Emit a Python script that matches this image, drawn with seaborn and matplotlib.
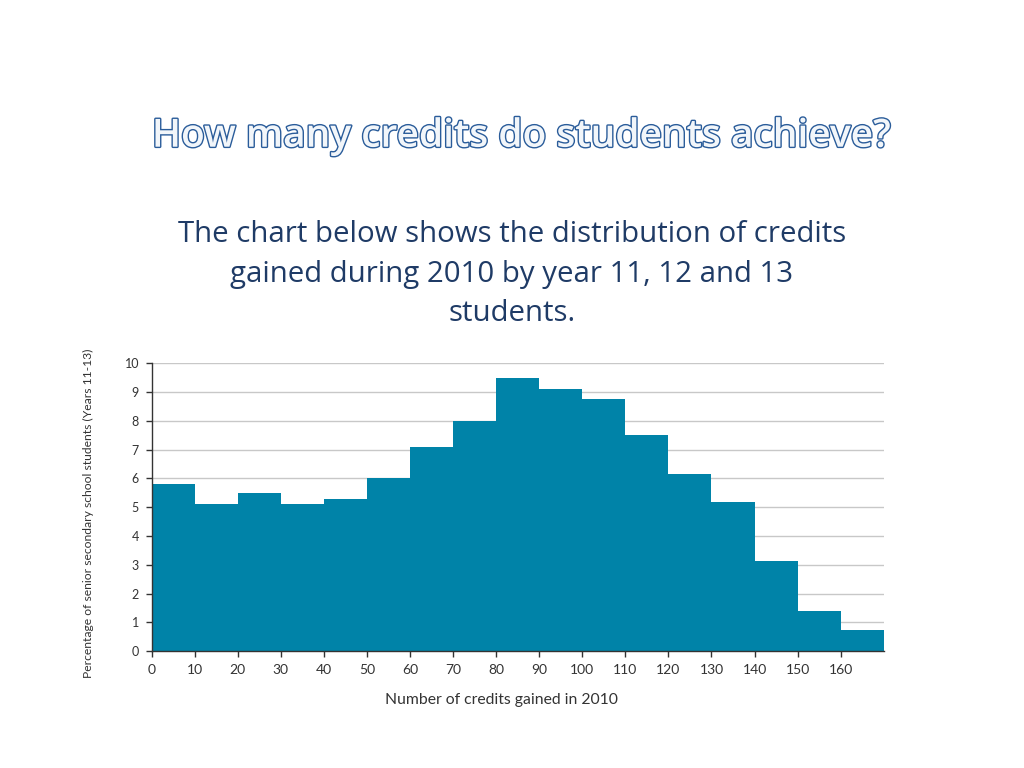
import numpy as np
import pandas as pd
import matplotlib
matplotlib.use("Agg")
import matplotlib.pyplot as plt
import matplotlib.patheffects as pe
import seaborn as sns

# Data
bin_starts = [0, 10, 20, 30, 40, 50, 60, 70, 80, 90, 100, 110, 120, 130, 140, 150, 160]
percentages = [5.80, 5.10, 5.48, 5.10, 5.30, 6.03, 7.10, 7.98, 9.48, 9.12, 8.77, 7.51, 6.15, 5.17, 3.13, 1.39, 0.74]
x_ticks = [0, 10, 20, 30, 40, 50, 60, 70, 80, 90, 100, 110, 120, 130, 140, 150, 160]
y_ticks = [0, 1, 2, 3, 4, 5, 6, 7, 8, 9, 10]

title = "How many credits do students achieve?"
subtitle = "The chart below shows the distribution of credits\ngained during 2010 by year 11, 12 and 13\nstudents."
xlabel = "Number of credits gained in 2010"
ylabel = "Percentage of senior secondary school students (Years 11-13)"

bin_width = 10
df = pd.DataFrame({"credits": [b + bin_width / 2 for b in bin_starts], "pct": percentages})
edges = list(bin_starts) + [bin_starts[-1] + bin_width]

sns.set_theme(style="white")
plt.rcParams["font.family"] = ["Open Sans", "DejaVu Sans"]

fig = plt.figure(figsize=(10.24, 7.68), dpi=100)
ax = fig.add_axes([0.148, 0.152, 0.715, 0.375])

ax.yaxis.grid(True, color="#c8c8c8", linewidth=1.0)
ax.set_axisbelow(True)

sns.histplot(data=df, x="credits", weights="pct", bins=edges, color="#0083a8",
             alpha=1.0, edgecolor="none", linewidth=0, ax=ax, zorder=2)

ax.set_xlim(0, 170)
ax.set_ylim(0, 10)
ax.set_xticks(x_ticks)
ax.set_yticks(y_ticks)
ax.set_xticklabels([str(t) for t in x_ticks], fontsize=10, color="#333333", family=["Lato", "DejaVu Sans"])
ax.set_yticklabels([str(t) for t in y_ticks], fontsize=9, color="#333333", family=["Lato", "DejaVu Sans"])
ax.tick_params(axis="both", which="both", length=4, width=1, color="#333333",
               bottom=True, left=True, direction="out", pad=5)
for s in ["top", "right"]:
    ax.spines[s].set_visible(False)
ax.spines["left"].set_color("#333333")
ax.spines["bottom"].set_color("#333333")
ax.spines["left"].set_linewidth(1)
ax.spines["bottom"].set_linewidth(1)

ax.set_xlabel("")
ax.set_ylabel("")
fig.text(0.490, 0.088, xlabel, ha="center", va="center", fontsize=11.3, color="#333333",
         family=["Lato", "DejaVu Sans"])
fig.text(0.086, 0.331, ylabel, ha="center", va="center", rotation=90, fontsize=8.7,
         color="#333333", family=["Lato", "DejaVu Sans"])

t = fig.text(0.509, 0.822, title, ha="center", va="center", fontsize=28, fontweight="semibold",
             color="#f2f6fa", family=["Open Sans", "DejaVu Sans"])
t.set_path_effects([pe.Stroke(linewidth=2.0, foreground="#2a5c9a"), pe.Normal()])

fig.text(0.500, 0.643, subtitle, ha="center", va="center", fontsize=21.2, color="#1f3b66",
         linespacing=1.47, family=["Open Sans", "DejaVu Sans"])

fig.savefig("out.png", dpi=100, facecolor="white")
